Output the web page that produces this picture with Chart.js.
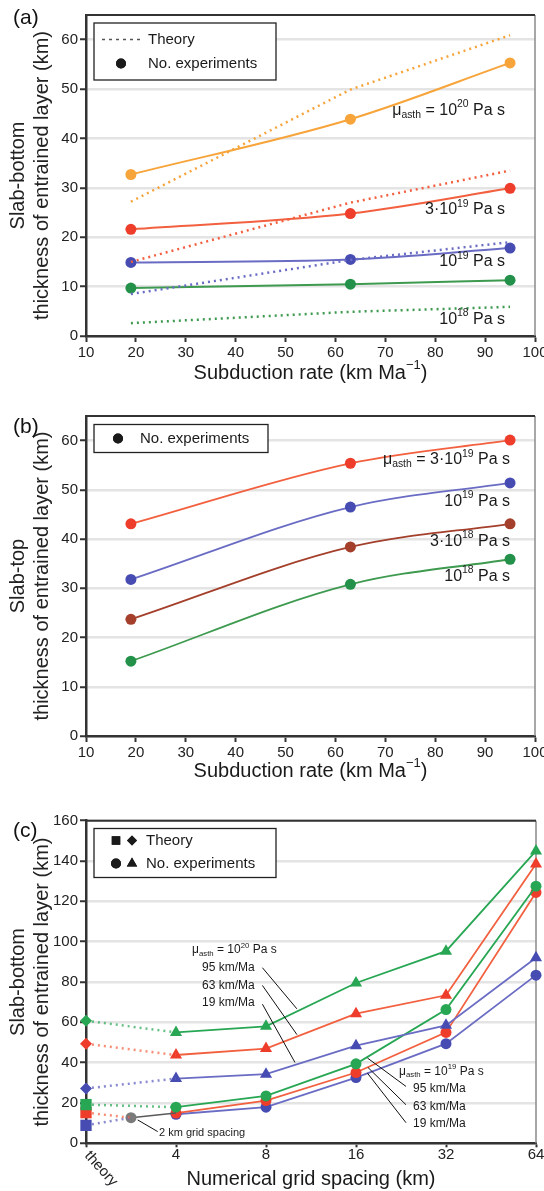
<!DOCTYPE html>
<html>
<head>
<meta charset="utf-8">
<script src="https://cdn.jsdelivr.net/npm/chart.js@4.4.0/dist/chart.umd.min.js"></script>
<style>
  body { margin: 0; background: #fff; width: 544px; height: 1191px; overflow: hidden; position: relative;
         font-family: "Liberation Sans", Arial, sans-serif; }
  canvas { position: absolute; left: 0; }
  .tag { position: absolute; left: 13px; font-size: 21px; line-height: 24px; color: #111; }
</style>
</head>
<body>
<canvas id="chartA" width="544" height="395" style="top:0"></canvas>
<canvas id="chartB" width="544" height="395" style="top:395px"></canvas>
<canvas id="chartC" width="544" height="401" style="top:790px"></canvas>
<div class="tag" style="top:5px">(a)</div>
<div class="tag" style="top:414px">(b)</div>
<div class="tag" style="top:818px">(c)</div>
<script>
// --- Données (a) : épaisseur bas de slab vs vitesse de subduction ---
const ratesA = [19, 63, 95];
const expA_1e20 = [32.7, 43.9, 55.3];
const expA_3e19 = [21.6, 24.8, 29.9];
const expA_1e19 = [14.9, 15.5, 17.8];
const expA_1e18 = [9.7, 10.5, 11.3];
const theoryA_1e20 = [27.2, 49.9, 60.9];
const theoryA_3e19 = [15.0, 27.0, 33.5];
const theoryA_1e19 = [8.5, 15.4, 19.0];
const theoryA_1e18 = [2.6, 4.9, 5.9];

// --- Données (b) : épaisseur haut de slab ---
const ratesB = [19, 63, 95];
const topB_3e19 = [43.1, 55.4, 60.1];
const topB_1e19 = [31.8, 46.5, 51.4];
const topB_3e18 = [23.7, 38.4, 43.1];
const topB_1e18 = [15.2, 30.8, 35.9];

// --- Données (c) : convergence en maillage ---
const gridLabelsC = ['theory', '4', '8', '16', '32', '64'];
const gridPosC = [1, 2, 3, 4, 5];
const theory20C = [60.8, 49.4, 27.2];   // 95, 63, 19 km/Ma
const theory19C = [19.2, 15.2, 8.9];    // 95, 63, 19 km/Ma
const exp20_95 = [55, 58, 79.5, 95.3, 145];
const exp20_63 = [43.8, 47, 64.3, 73.4, 138.5];
const exp20_19 = [32.1, 34.3, 48.4, 58.5, 92];
const exp19_95 = [17.9, 23.5, 39.4, 66.3, 127.5];
const exp19_63 = [15, 21.2, 35.1, 55, 124.4];
const exp19_19 = [14.4, 17.9, 32.6, 49.4, 83.4];
const grid2km = [0.5, 12.7];

const FONT = '"Liberation Sans", Arial, Helvetica, sans-serif';
const ORANGE = '#f7a43a', RED = '#ee3d2b', RED_L = '#f2603f', BLUE = '#474cb2', BLUE_L = '#6a6cc4',
      GREEN = '#23914a', GREEN_L = '#3d9a4f', BROWN = '#a33f2a', GREEN_C = '#27a653';

const pts = (xs, ys) => xs.map((x, i) => ({ x: x, y: ys[i] }));

function line(data, color, extra) {
  return Object.assign({
    data: data, borderColor: color, backgroundColor: color,
    pointBackgroundColor: color, pointBorderColor: color,
    borderWidth: 2, pointRadius: 5.5, pointBorderWidth: 0, pointHoverRadius: 5.5,
    tension: 0, fill: false, clip: false
  }, extra || {});
}

function dotted(data, color) {
  return line(data, color, { borderDash: [2, 4], borderWidth: 2.5, pointRadius: 0, pointHoverRadius: 0 });
}

function visc(prefix, exp, withMu) {
  const head = withMu ? [{ t: 'μ' }, { t: 'asth', sub: true }, { t: ' = ' }] : [];
  return head.concat([{ t: prefix + '10' }, { t: exp, sup: true }, { t: ' Pa s' }]);
}

function richText(ctx, x, y, parts, size, align) {
  const sizeOf = p => (p.sup || p.sub) ? size * 0.65 : size;
  let w = 0;
  parts.forEach(p => { ctx.font = sizeOf(p) + 'px ' + FONT; w += ctx.measureText(p.t).width; });
  let cx = align === 'right' ? x - w : (align === 'center' ? x - w / 2 : x);
  ctx.textAlign = 'left';
  ctx.textBaseline = 'middle';
  parts.forEach(p => {
    ctx.font = sizeOf(p) + 'px ' + FONT;
    const dy = p.sup ? -size * 0.38 : (p.sub ? size * 0.3 : 0);
    ctx.fillText(p.t, cx, y + dy);
    cx += ctx.measureText(p.t).width;
  });
}

function yAxis(max, step, title) {
  return {
    min: 0, max: max,
    ticks: { stepSize: step, color: '#222', font: { size: 15, family: FONT }, padding: 2 },
    grid: { color: '#e4e4e4', lineWidth: 2.5, tickColor: '#333', tickLength: 6, tickWidth: 2 },
    border: { color: '#333', width: 2.5 },
    title: { display: true, text: title, color: '#222',
             font: { size: 20, family: FONT, lineHeight: 1.2 }, padding: { top: 6, bottom: 0 } },
    afterBuildTicks: s => { s.ticks = s.ticks.filter(t => t.value % step === 0); },
    afterFit: s => { s.width = 86; }
  };
}

function xAxis(min, max, step, height, tickLen, pad, cb) {
  return {
    type: 'linear', min: min, max: max,
    ticks: { stepSize: step, color: '#222', font: { size: 15, family: FONT }, padding: pad,
             maxRotation: 0, autoSkip: false, callback: cb },
    grid: { drawOnChartArea: false, tickColor: '#333', tickLength: tickLen, tickWidth: 2 },
    border: { color: '#333', width: 2.5 },
    afterFit: s => { s.height = height; s.paddingLeft = 0; s.paddingRight = 0; }
  };
}

// Cadre, légende, annotations et titre de l'axe x
function overlay(cfg) {
  return {
    id: 'overlay',
    beforeDatasetsDraw(chart) {
      const { ctx, chartArea: a } = chart;
      ctx.save();
      ctx.strokeStyle = '#8a8a8a'; ctx.lineWidth = 1.5;
      ctx.beginPath(); ctx.moveTo(a.right, a.top); ctx.lineTo(a.right, a.bottom); ctx.stroke();
      ctx.strokeStyle = '#333'; ctx.lineWidth = 2;
      ctx.beginPath(); ctx.moveTo(a.left, a.top); ctx.lineTo(a.right, a.top); ctx.stroke();
      ctx.restore();
    },
    afterDraw(chart) {
      const { ctx, chartArea: a, scales: { x, y } } = chart;
      ctx.save();
      ctx.fillStyle = '#1a1a1a';
      // titre axe x
      richText(ctx, (a.left + a.right) / 2, cfg.xTitleY, cfg.xTitle, 20, 'center');
      // annotations
      (cfg.notes || []).forEach(n => {
        richText(ctx, x.getPixelForValue(n.x), y.getPixelForValue(n.y), n.parts, n.size, n.align);
      });
      ctx.strokeStyle = '#111'; ctx.lineWidth = 1;
      (cfg.leaders || []).forEach(l => {
        ctx.beginPath();
        ctx.moveTo(x.getPixelForValue(l[0]), y.getPixelForValue(l[1]));
        ctx.lineTo(x.getPixelForValue(l[2]), y.getPixelForValue(l[3]));
        ctx.stroke();
      });
      // étiquette "theory" inclinée
      if (cfg.theoryTick) {
        ctx.save();
        ctx.translate(x.getPixelForValue(0) + 1, a.bottom + 10);
        ctx.rotate(48 * Math.PI / 180);
        ctx.font = '15px ' + FONT; ctx.textAlign = 'left'; ctx.textBaseline = 'middle';
        ctx.fillStyle = '#222';
        ctx.fillText('theory', 0, 0);
        ctx.restore();
      }
      // légende
      const L = cfg.legend;
      ctx.fillStyle = '#fff'; ctx.strokeStyle = '#222'; ctx.lineWidth = 1.3;
      ctx.fillRect(L.box[0], L.box[1], L.box[2], L.box[3]);
      ctx.strokeRect(L.box[0], L.box[1], L.box[2], L.box[3]);
      L.rows.forEach(r => {
        ctx.fillStyle = '#1a1a1a'; ctx.strokeStyle = '#1a1a1a';
        r.marks.forEach(m => {
          if (m.style === 'dash') {
            ctx.save();
            ctx.strokeStyle = '#555'; ctx.lineWidth = 1.6; ctx.setLineDash([3, 4]);
            ctx.beginPath(); ctx.moveTo(m.x, r.y); ctx.lineTo(m.x + 39, r.y); ctx.stroke();
            ctx.restore();
          } else {
            Chart.helpers.drawPoint(ctx, { pointStyle: m.style, radius: m.r, rotation: 0, borderWidth: 0 }, m.x, r.y);
            ctx.fill();
          }
        });
        ctx.fillStyle = '#1a1a1a';
        ctx.font = '15px ' + FONT; ctx.textAlign = 'left'; ctx.textBaseline = 'middle';
        ctx.fillText(r.text, L.textX, r.y);
      });
      ctx.restore();
    }
  };
}

const subRate = [{ t: 'Subduction rate (km Ma' }, { t: '−1', sup: true }, { t: ')' }];
const baseOpts = (padTop, padRight) => ({
  responsive: false, animation: false, events: [],
  layout: { padding: { top: padTop, right: padRight, left: 0, bottom: 0 } },
  plugins: { legend: { display: false }, tooltip: { enabled: false } }
});

// --- (a) ---
new Chart(document.getElementById('chartA'), {
  type: 'line',
  data: {
    datasets: [
      dotted(pts(ratesA, theoryA_1e20), ORANGE),
      dotted(pts(ratesA, theoryA_3e19), RED_L),
      dotted(pts(ratesA, theoryA_1e19), BLUE_L),
      dotted(pts(ratesA, theoryA_1e18), GREEN_L),
      line(pts(ratesA, expA_1e20), ORANGE, { cubicInterpolationMode: 'monotone' }),
      line(pts(ratesA, expA_3e19), RED_L, { cubicInterpolationMode: 'monotone', pointBackgroundColor: RED, pointBorderColor: RED }),
      line(pts(ratesA, expA_1e19), BLUE_L, { cubicInterpolationMode: 'monotone', pointBackgroundColor: BLUE, pointBorderColor: BLUE }),
      line(pts(ratesA, expA_1e18), GREEN_L, { cubicInterpolationMode: 'monotone', pointBackgroundColor: GREEN, pointBorderColor: GREEN })
    ]
  },
  options: Object.assign(baseOpts(15, 9), {
    scales: {
      x: xAxis(10, 100, 10, 59, 6, 2),
      y: yAxis(65, 10, ['Slab-bottom', 'thickness of entrained layer (km)'])
    }
  }),
  plugins: [overlay({
    xTitle: subRate, xTitleY: 373,
    notes: [
      { x: 94, y: 45.7, parts: visc('', '20', true), size: 16, align: 'right' },
      { x: 94, y: 25.5, parts: visc('3·', '19', false), size: 16, align: 'right' },
      { x: 94, y: 15.0, parts: visc('', '19', false), size: 16, align: 'right' },
      { x: 94, y: 3.4, parts: visc('', '18', false), size: 16, align: 'right' }
    ],
    legend: {
      box: [94, 23, 182, 57], textX: 148,
      rows: [
        { y: 39.5, text: 'Theory', marks: [{ style: 'dash', x: 102 }] },
        { y: 63.5, text: 'No. experiments', marks: [{ style: 'circle', x: 121, r: 5 }] }
      ]
    }
  })]
});

// --- (b) ---
new Chart(document.getElementById('chartB'), {
  type: 'line',
  data: {
    datasets: [
      line(pts(ratesB, topB_3e19), RED_L, { cubicInterpolationMode: 'monotone', borderWidth: 1.8, pointBackgroundColor: RED, pointBorderColor: RED }),
      line(pts(ratesB, topB_1e19), BLUE_L, { cubicInterpolationMode: 'monotone', borderWidth: 1.8, pointBackgroundColor: BLUE, pointBorderColor: BLUE }),
      line(pts(ratesB, topB_3e18), BROWN, { cubicInterpolationMode: 'monotone', borderWidth: 1.8 }),
      line(pts(ratesB, topB_1e18), GREEN_L, { cubicInterpolationMode: 'monotone', borderWidth: 1.8, pointBackgroundColor: GREEN, pointBorderColor: GREEN })
    ]
  },
  options: Object.assign(baseOpts(21, 9), {
    scales: {
      x: xAxis(10, 100, 10, 54, 6, 2),
      y: yAxis(65, 10, ['Slab-top', 'thickness of entrained layer (km)'])
    }
  }),
  plugins: [overlay({
    xTitle: subRate, xTitleY: 376.5,
    notes: [
      { x: 95, y: 56.1, parts: visc('3·', '19', true), size: 16, align: 'right' },
      { x: 95, y: 47.6, parts: visc('', '19', false), size: 16, align: 'right' },
      { x: 95, y: 39.5, parts: visc('3·', '18', false), size: 16, align: 'right' },
      { x: 95, y: 32.4, parts: visc('', '18', false), size: 16, align: 'right' }
    ],
    legend: {
      box: [94, 29.5, 174, 28], textX: 140,
      rows: [{ y: 43.5, text: 'No. experiments', marks: [{ style: 'circle', x: 118, r: 5 }] }]
    }
  })]
});

// --- (c) ---
const kmMa = s => [{ t: s + ' km/Ma' }];
new Chart(document.getElementById('chartC'), {
  type: 'line',
  data: {
    datasets: [
      // théorie -> premier point (pointillés)
      line([{ x: 0, y: theory20C[0] }, { x: 1, y: exp20_95[0] }], GREEN_C, { borderDash: [2, 4], borderWidth: 2.5, borderColor: 'rgba(39,166,83,0.7)', pointStyle: 'rectRot', pointRadius: [6, 0] }),
      line([{ x: 0, y: theory20C[1] }, { x: 1, y: exp20_63[0] }], RED, { borderDash: [2, 4], borderWidth: 2.5, borderColor: 'rgba(242,96,63,0.7)', pointStyle: 'rectRot', pointRadius: [6, 0] }),
      line([{ x: 0, y: theory20C[2] }, { x: 1, y: exp20_19[0] }], BLUE, { borderDash: [2, 4], borderWidth: 2.5, borderColor: 'rgba(106,108,196,0.8)', pointStyle: 'rectRot', pointRadius: [6, 0] }),
      line([{ x: 0, y: theory19C[0] }, { x: 1, y: exp19_95[0] }], GREEN_C, { borderDash: [2, 4], borderWidth: 2.5, borderColor: 'rgba(39,166,83,0.7)', pointStyle: 'rect', pointRadius: [8, 0] }),
      line([{ x: 0, y: theory19C[1] }, { x: grid2km[0], y: grid2km[1] }], RED, { borderDash: [2, 4], borderWidth: 2.5, borderColor: 'rgba(242,96,63,0.7)', pointStyle: 'rect', pointRadius: [8, 0] }),
      line([{ x: 0, y: theory19C[2] }, { x: grid2km[0], y: grid2km[1] }], BLUE, { borderDash: [2, 4], borderWidth: 2.5, borderColor: 'rgba(106,108,196,0.8)', pointStyle: 'rect', pointRadius: [8, 0] }),
      // point 2 km
      line([{ x: grid2km[0], y: grid2km[1] }, { x: 1, y: exp19_63[0] }], '#5a5a5a', { borderWidth: 1.6, pointBackgroundColor: '#7a7a7a', pointBorderColor: '#7a7a7a', pointRadius: [5.5, 0] }),
      // expériences
      line(pts(gridPosC, exp20_95), GREEN_C, { borderWidth: 1.8, pointStyle: 'triangle', pointRadius: 7 }),
      line(pts(gridPosC, exp20_63), RED_L, { borderWidth: 1.8, pointStyle: 'triangle', pointRadius: 7, pointBackgroundColor: RED, pointBorderColor: RED }),
      line(pts(gridPosC, exp20_19), BLUE_L, { borderWidth: 1.8, pointStyle: 'triangle', pointRadius: 7, pointBackgroundColor: BLUE, pointBorderColor: BLUE }),
      line(pts(gridPosC, exp19_95), GREEN_C, { borderWidth: 1.8 }),
      line(pts(gridPosC, exp19_63), RED_L, { borderWidth: 1.8, pointBackgroundColor: RED, pointBorderColor: RED }),
      line(pts(gridPosC, exp19_19), BLUE_L, { borderWidth: 1.8, pointBackgroundColor: BLUE, pointBorderColor: BLUE })
    ]
  },
  options: Object.assign(baseOpts(30.7, 8), {
    scales: {
      x: xAxis(0, 5, 1, 47.7, 4, -1, v => v === 0 ? '' : gridLabelsC[v]),
      y: yAxis(160, 20, ['Slab-bottom', 'thickness of entrained layer (km)'])
    }
  }),
  plugins: [overlay({
    xTitle: [{ t: 'Numerical grid spacing (km)' }], xTitleY: 389,
    theoryTick: true,
    notes: [
      { x: 1.178, y: 95.8, parts: visc('', '20', true), size: 12, align: 'left' },
      { x: 1.29, y: 87.1, parts: kmMa('95'), size: 12, align: 'left' },
      { x: 1.29, y: 78.3, parts: kmMa('63'), size: 12, align: 'left' },
      { x: 1.29, y: 69.5, parts: kmMa('19'), size: 12, align: 'left' },
      { x: 3.478, y: 35.6, parts: visc('', '19', true), size: 12, align: 'left' },
      { x: 3.633, y: 26.9, parts: kmMa('95'), size: 12, align: 'left' },
      { x: 3.633, y: 18.2, parts: kmMa('63'), size: 12, align: 'left' },
      { x: 3.633, y: 9.6, parts: kmMa('19'), size: 12, align: 'left' },
      { x: 0.811, y: 5.0, parts: [{ t: '2 km grid spacing' }], size: 11, align: 'left' }
    ],
    leaders: [
      [1.96, 87.1, 2.343, 66.7], [1.96, 78.3, 2.344, 53.9], [1.96, 69.0, 2.322, 40.1],
      [3.556, 28.2, 3.127, 42.3], [3.556, 19.1, 3.133, 37.6], [3.556, 10.2, 3.127, 34.8],
      [0.574, 11.6, 0.797, 5.8]
    ],
    legend: {
      box: [94, 38.5, 182, 49], textX: 146,
      rows: [
        { y: 50.5, text: 'Theory', marks: [{ style: 'rect', x: 116, r: 6 }, { style: 'rectRot', x: 132, r: 5 }] },
        { y: 73.5, text: 'No. experiments', marks: [{ style: 'circle', x: 116, r: 5 }, { style: 'triangle', x: 132, r: 6 }] }
      ]
    }
  })]
});
</script>
</body>
</html>
